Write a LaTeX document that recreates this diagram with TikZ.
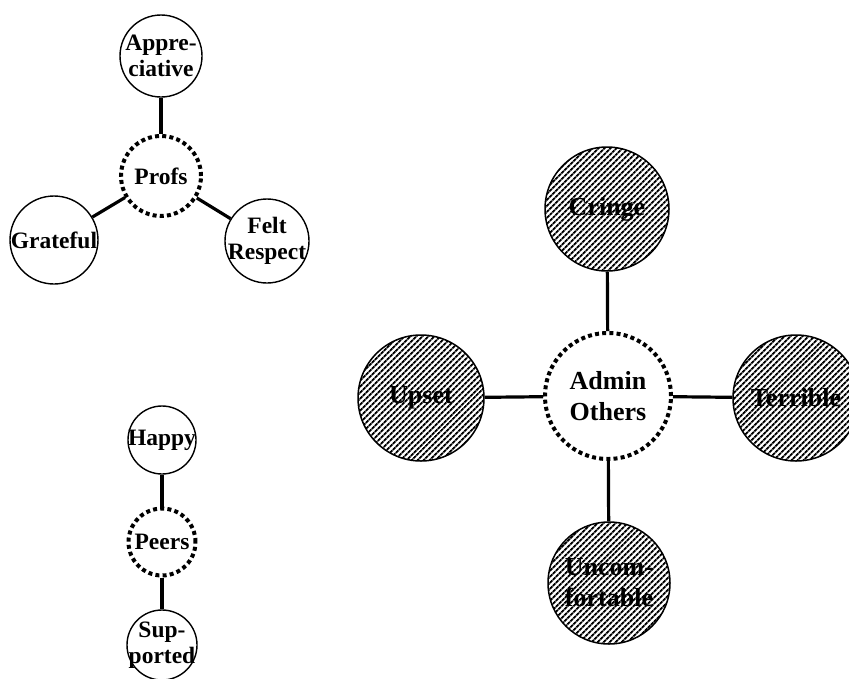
\documentclass[tikz,border=0pt]{standalone}
\usepackage{fontspec}
\setmainfont{Liberation Serif}
\usetikzlibrary{patterns.meta}
\begin{document}
\begin{tikzpicture}[x=1pt,y=-1pt,
  smalltxt/.style={font=\bfseries\fontsize{23.5}{26}\selectfont, align=center, inner sep=0pt},
  bigtxt/.style={font=\bfseries\fontsize{26}{31}\selectfont, align=center, inner sep=0pt},
  feeling/.style={circle, draw, line width=1.4pt, minimum size=#1, inner sep=0pt, fill=white},
  hatched/.style={circle, draw, line width=1.5pt, minimum size=#1, inner sep=0pt,
    pattern={Lines[angle=45,distance=4pt,line width=2.1pt]}},
  group/.style={circle, draw, line width=4pt, dash pattern=on 4pt off 3.2pt,
    minimum size=#1, inner sep=0pt},
  link/.style={line width=3.2pt}]
\useasboundingbox (0,0) rectangle (849,678);

% Professors cluster
\node[group=80, label={[smalltxt]center:Profs}] (profs) at (161,176) {};
\node[feeling=82, label={[smalltxt]center:Appre-\\ciative}] (appr) at (161,56) {};
\node[feeling=88, label={[smalltxt]center:Grateful}] (grat) at (54,240) {};
\node[feeling=84, label={[smalltxt]center:Felt\\Respect}] (felt) at (267,241) {};
\draw[link] (appr) -- (profs);
\draw[link] (grat) -- (profs);
\draw[link] (profs) -- (felt);

% Peers cluster
\node[group=67, label={[smalltxt]center:Peers}] (peers) at (162,542) {};
\node[feeling=68, label={[smalltxt]center:Happy}] (happy) at (162,440) {};
\node[feeling=70, label={[smalltxt]center:Sup-\\ported}] (supp) at (162,645) {};
\draw[link] (happy) -- (peers);
\draw[link] (peers) -- (supp);

% Administration / others cluster
\node[group=126, label={[bigtxt]center:Admin\\Others}] (admin) at (608,396) {};
\node[hatched=124, label={[bigtxt]center:Cringe}] (cringe) at (607,209) {};
\node[hatched=126, label={[bigtxt]center:Upset}] (upset) at (421,398) {};
\node[hatched=126, label={[bigtxt]center:Terrible}] (terr) at (796,398) {};
\node[hatched=122, label={[bigtxt]center:Uncom-\\fortable}] (unc) at (609,583) {};
\draw[link] (cringe) -- (admin);
\draw[link] (upset) -- (admin);
\draw[link] (admin) -- (terr);
\draw[link] (admin) -- (unc);
\end{tikzpicture}
\end{document}
